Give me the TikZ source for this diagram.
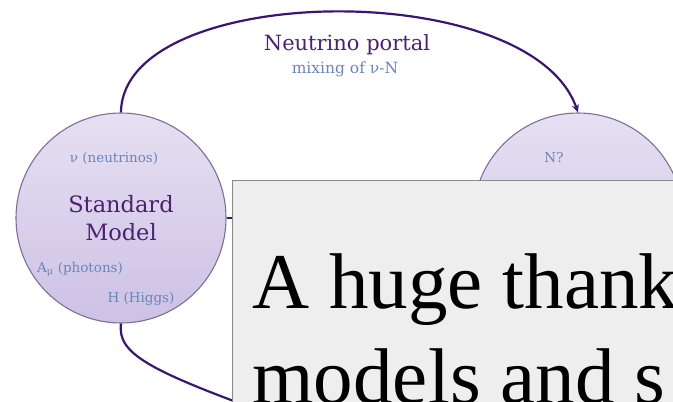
\documentclass[tikz,border=0pt]{standalone}
\usepackage{fontspec}
\setmainfont{Liberation Serif}
\newfontfamily\labelfont{DejaVu Serif}
\usetikzlibrary{arrows.meta}

\definecolor{smfill}{HTML}{E6E0F2}
\definecolor{smfilldark}{HTML}{CDC1E5}
\definecolor{smborder}{HTML}{7B6F98}
\definecolor{portal}{HTML}{3B1670}
\definecolor{titletext}{HTML}{4B2170}
\definecolor{smalltext}{HTML}{6A86B8}
\definecolor{boxfill}{HTML}{EEEEEE}
\definecolor{boxborder}{HTML}{8A8A8A}

\begin{document}
\begin{tikzpicture}[x=1pt,y=-1pt]
			\useasboundingbox (0,0) rectangle (673,402);
			\clip (0,0) rectangle (673,402);
			
			% Define nodes
			\node (sm) at (121,218) [circle, draw=smborder, line width=1.1pt, top color=smfill, bottom color=smfilldark, minimum size=210pt, align=center, text=titletext, font=\labelfont\fontsize{22.5}{28}\selectfont] {Standard\\Model};
			\node (hn) at (578,218) [circle, draw=smborder, line width=1.1pt, top color=smfill, bottom color=smfilldark, minimum size=210pt] {};
			
			% Add labels inside nodes
			\node (nu) at (114,162) [anchor=base, text=smalltext, font=\labelfont\fontsize{13.5}{16}\selectfont] {ν (neutrinos)};
			\node (amu) at (80,272) [anchor=base, text=smalltext, font=\labelfont\fontsize{13.5}{16}\selectfont] {A\textsubscript{μ} (photons)};
			\node (higgs) at (141,302) [anchor=base, text=smalltext, font=\labelfont\fontsize{13.5}{16}\selectfont] {H (Higgs)};
			\node (nq) at (554,162) [anchor=base, text=smalltext, font=\labelfont\fontsize{13.5}{16}\selectfont] {N?};
			
			% Draw edges
			\coordinate (low) at (300,425);
			\draw[portal, line width=2.2pt] (sm.east) -- (hn.west);
			\draw[portal, line width=2.2pt] (sm.south) .. controls (117,355) and (150,372) .. (low);
			\draw[portal, line width=2.2pt, -{Stealth[length=8pt,width=7pt]}] (sm.north) .. controls (122,-18) and (530,-25) .. (hn.north);
			
			\node (np) at (347,50) [anchor=base, text=titletext, font=\labelfont\fontsize{21}{25}\selectfont] {Neutrino portal};
			\node (mix) at (345,73) [anchor=base, text=smalltext, font=\labelfont\fontsize{15.5}{18}\selectfont] {mixing of ν-N};
			
			% Box on top
			\node (box) at (232,180) [anchor=north west, draw=boxborder, line width=1pt, fill=boxfill, minimum width=520pt, minimum height=300pt] {};
			\node (l1) at (249,308) [anchor=base west, font=\fontsize{79}{95}\selectfont] {A huge thank};
			\node (l2) at (249,403) [anchor=base west, font=\fontsize{79}{95}\selectfont] {models and s};
		\end{tikzpicture}
\end{document}
